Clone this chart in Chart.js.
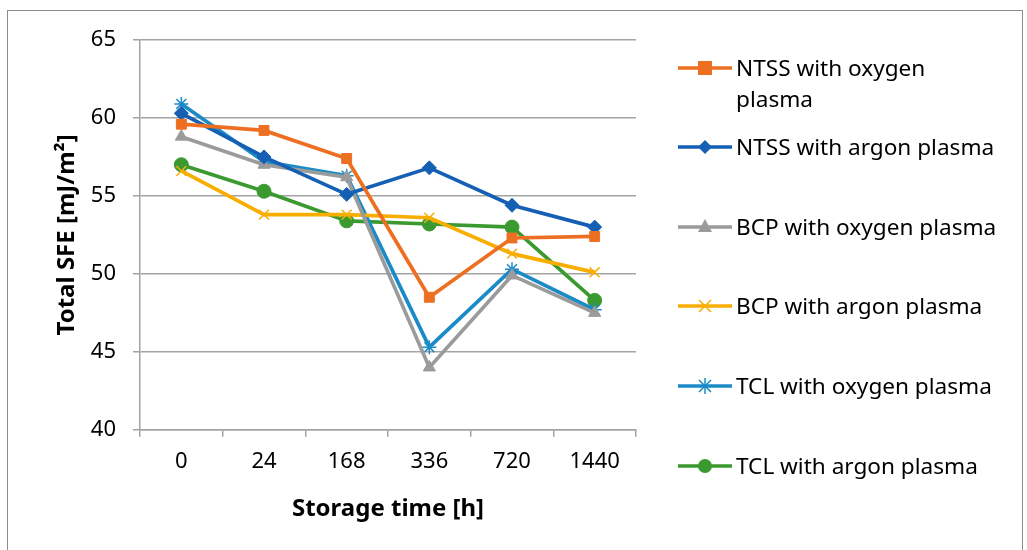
<!DOCTYPE html>
<html>
<head>
<meta charset="utf-8">
<script src="https://cdn.jsdelivr.net/npm/chart.js@4.4.1/dist/chart.umd.min.js"></script>
<style>
  html, body { margin: 0; padding: 0; background: #fff; }
  #wrap { position: relative; width: 1027px; height: 550px; overflow: hidden; }
  #frame { position: absolute; left: 7px; top: 10px; width: 1014px; height: 560px; border: 1px solid #8c8c8c; }
  #chart { position: absolute; left: 0; top: 0; }
  #legend { position: absolute; left: 678px; top: 0; font-family: "Noto Sans", sans-serif; font-size: 22.6px; color: #000; }
  .item { position: absolute; left: 0; white-space: nowrap; display: flex; align-items: flex-start; }
  .item svg { flex: none; }
  .item span { display: block; margin-left: 4px; line-height: 31px; }
</style>
</head>
<body>
<div id="wrap">
  <div id="frame"></div>
  <canvas id="chart" width="1027" height="550"></canvas>
  <div id="legend"></div>
</div>
<script>
// Storage time categories (hours)
const hours = ['0', '24', '168', '336', '720', '1440']

// Total SFE values [mJ/m2]
const ntssOxygen = [59.6, 59.2, 57.4, 48.5, 52.3, 52.4]
const ntssArgon = [60.3, 57.5, 55.1, 56.8, 54.4, 53.0]
const bcpOxygen = [58.8, 57.0, 56.2, 44.0, 49.9, 47.5]
const bcpArgon = [56.6, 53.8, 53.8, 53.6, 51.3, 50.1]
const tclOxygen = [60.9, 57.2, 56.3, 45.3, 50.3, 47.7]
const tclArgon = [57.0, 55.3, 53.4, 53.2, 53.0, 48.3]

const yTicks = [40, 45, 50, 55, 60, 65]

const series = [
  { label: 'NTSS with oxygen plasma', lines: ['NTSS with oxygen', 'plasma'], data: ntssOxygen, color: '#ED7022', style: 'rect', top: 52 },
  { label: 'NTSS with argon plasma', lines: ['NTSS with argon plasma'], data: ntssArgon, color: '#1560B4', style: 'rectRot', top: 131 },
  { label: 'BCP with oxygen plasma', lines: ['BCP with oxygen plasma'], data: bcpOxygen, color: '#9B9B9B', style: 'triangle', top: 211 },
  { label: 'BCP with argon plasma', lines: ['BCP with argon plasma'], data: bcpArgon, color: '#F8AE00', style: 'crossRot', top: 290 },
  { label: 'TCL with oxygen plasma', lines: ['TCL with oxygen plasma'], data: tclOxygen, color: '#1B8BC8', style: 'star', top: 370 },
  { label: 'TCL with argon plasma', lines: ['TCL with argon plasma'], data: tclArgon, color: '#3B9A2F', style: 'circle', top: 450 }
]

const FONT = '"Noto Sans", sans-serif'
const GRID = '#a3a3a3'

const datasets = series.map(s => ({
  label: s.label,
  data: s.data,
  borderColor: s.color,
  backgroundColor: s.color,
  borderWidth: 3.7,
  pointStyle: s.style,
  pointRadius: 7,
  pointBorderWidth: s.style === 'crossRot' || s.style === 'star' ? 1.5 : 1,
  pointBorderColor: s.color,
  pointBackgroundColor: s.color,
  tension: 0
}))

new Chart(document.getElementById('chart'), {
  type: 'line',
  data: { labels: hours, datasets: datasets },
  options: {
    responsive: false,
    animation: false,
    layout: { padding: { left: 53, right: 391, top: 40, bottom: 26 } },
    plugins: {
      legend: { display: false },
      tooltip: { enabled: false }
    },
    scales: {
      x: {
        offset: true,
        grid: { offset: true, drawOnChartArea: false, drawTicks: true, tickLength: 7, color: GRID, lineWidth: 1.5 },
        border: { display: true, color: GRID, width: 1.5 },
        ticks: { color: '#000', font: { family: FONT, size: 22 }, padding: 12 },
        title: { display: true, text: 'Storage time [h]', color: '#000', font: { family: FONT, size: 24, weight: 'bold' }, padding: { top: 8, bottom: 0 } }
      },
      y: {
        min: 40,
        max: 65,
        afterBuildTicks: axis => { axis.ticks = yTicks.map(v => ({ value: v })) },
        // keep the plot's left edge where the reference has it
        afterFit: axis => { axis.width = 87 },
        grid: { color: GRID, lineWidth: 1.5, tickLength: 7 },
        border: { display: true, color: GRID, width: 1.5 },
        ticks: { color: '#000', font: { family: FONT, size: 22 }, padding: 17 },
        title: { display: true, text: 'Total SFE [mJ/m²]', color: '#000', font: { family: FONT, size: 24, weight: 'bold' }, padding: { top: 0, bottom: 9 } }
      }
    }
  }
})

// Legend: line with marker, drawn as small SVG icons
function markerSvg(s) {
  const c = s.color
  const cx = 27, cy = 16
  let m = ''
  if (s.style === 'rect') m = `<rect x="${cx - 7}" y="${cy - 7}" width="14" height="14" fill="${c}"/>`
  if (s.style === 'rectRot') m = `<polygon points="${cx},${cy - 7} ${cx + 7},${cy} ${cx},${cy + 7} ${cx - 7},${cy}" fill="${c}"/>`
  if (s.style === 'triangle') m = `<polygon points="${cx},${cy - 8} ${cx + 7},${cy + 5} ${cx - 7},${cy + 5}" fill="${c}"/>`
  if (s.style === 'crossRot') m = `<path d="M${cx - 6} ${cy - 6}L${cx + 6} ${cy + 6}M${cx + 6} ${cy - 6}L${cx - 6} ${cy + 6}" stroke="${c}" stroke-width="1.5"/>`
  if (s.style === 'star') m = `<path d="M${cx - 6} ${cy - 6}L${cx + 6} ${cy + 6}M${cx + 6} ${cy - 6}L${cx - 6} ${cy + 6}M${cx} ${cy - 8}L${cx} ${cy + 8}" stroke="${c}" stroke-width="1.5"/>`
  if (s.style === 'circle') m = `<circle cx="${cx}" cy="${cy}" r="7" fill="${c}"/>`
  return `<svg width="54" height="31"><line x1="0" y1="${cy}" x2="54" y2="${cy}" stroke="${c}" stroke-width="3.5"/>${m}</svg>`
}

const legend = document.getElementById('legend')
series.forEach(s => {
  const div = document.createElement('div')
  div.className = 'item'
  div.style.top = s.top + 'px'
  div.innerHTML = markerSvg(s) + '<span>' + s.lines.join('<br>') + '</span>'
  legend.appendChild(div)
})
</script>
</body>
</html>
